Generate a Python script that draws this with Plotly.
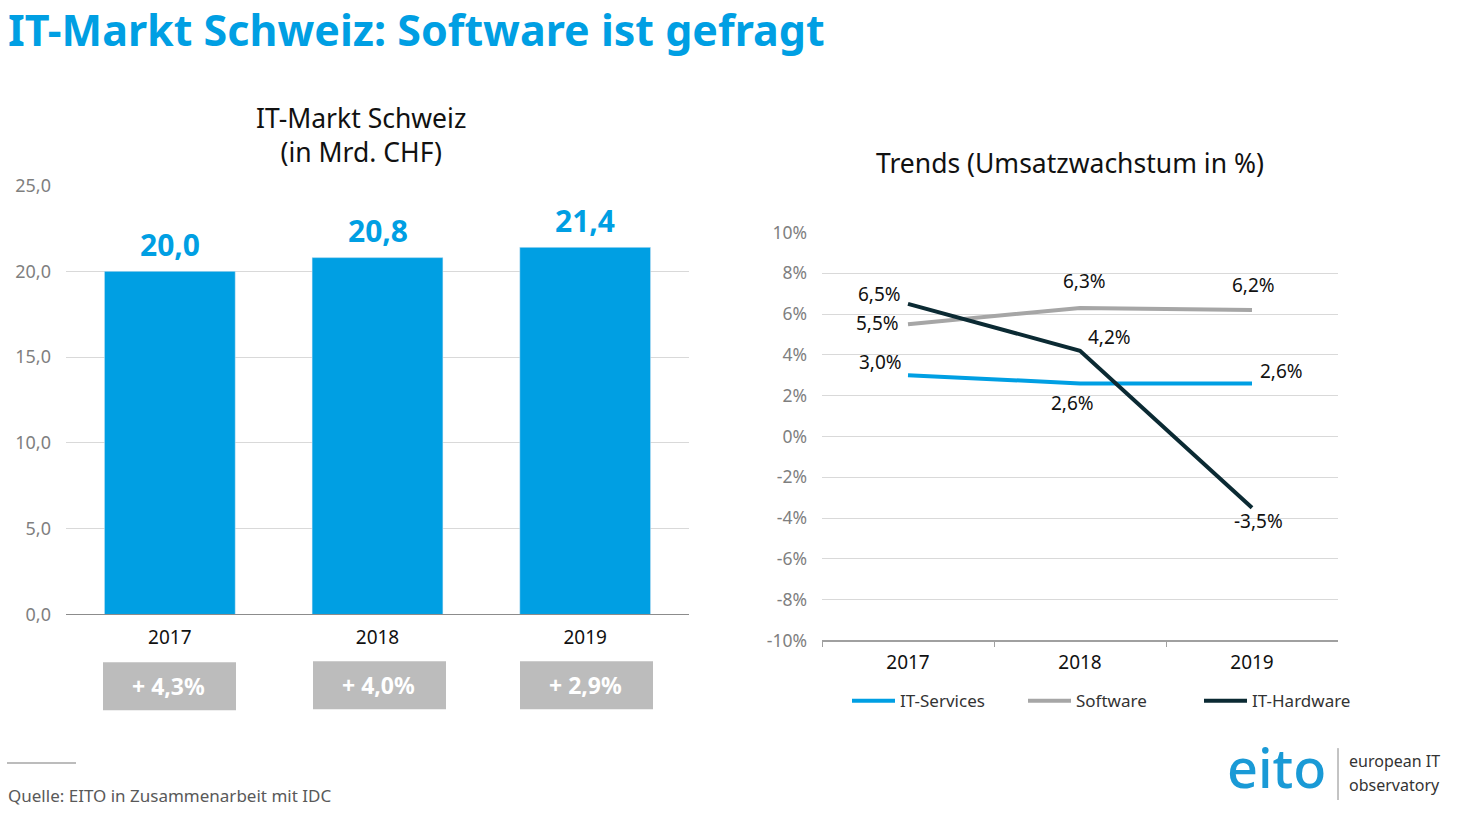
import plotly.graph_objects as go

W, H = 1464, 813
FONT = "Noto Sans"
BLUE = "#009fe3"
GREY = "#a6a6a6"
DARK = "#0b2a33"
MT, MB = 11, 11  # space Plotly keeps above and below the plot area

years = ["2017", "2018", "2019"]
market = [20.0, 20.8, 21.4]
growth = ["+ 4,3%", "+ 4,0%", "+ 2,9%"]
services = [3.0, 2.6, 2.6]
software = [5.5, 6.3, 6.2]
hardware = [6.5, 4.2, -3.5]
left_ticks = [0, 5, 10, 15, 20, 25]
right_ticks = [-10, -8, -6, -4, -2, 0, 2, 4, 6, 8, 10]


def px(v):
    return v / W


def py(v):
    return (H - MB - v) / (H - MT - MB)


def de(v, d=1):
    return f"{v:.{d}f}".replace(".", ",")


fig = go.Figure()
fig.add_trace(go.Bar(
    x=years, y=market, marker_color=BLUE, width=0.63, showlegend=False,
    xaxis="x", yaxis="y", hoverinfo="skip",
))
for name, vals, col in [("IT-Services", services, BLUE), ("Software", software, GREY), ("IT-Hardware", hardware, DARK)]:
    fig.add_trace(go.Scatter(
        x=years, y=vals, name=name, mode="lines",
        line=dict(color=col, width=4, shape="linear"),
        xaxis="x2", yaxis="y2",
    ))

annotations = []
# bar value labels
for i, v in enumerate(market):
    annotations.append(dict(text=de(v), xref="x", yref="y", x=i, y=v, yshift=27, xanchor="center", yanchor="middle",
                            showarrow=False, font=dict(family=FONT, size=30, color=BLUE, weight="bold")))

# chart titles
annotations.append(dict(text="IT-Markt Schweiz<br>(in Mrd. CHF)", xref="paper", yref="paper", x=px(361), y=py(133),
                        showarrow=False, font=dict(family=FONT, size=26.5, color="#111111"),
                        xanchor="center", yanchor="middle"))
annotations.append(dict(text="Trends (Umsatzwachstum in %)", xref="paper", yref="paper", x=px(1070), y=py(161),
                        showarrow=False, font=dict(family=FONT, size=26.5, color="#111111"), xanchor="center", yanchor="middle"))

# line data labels with offsets
offsets = {
    "services": [(-28, 13), (-8, -20), (29, 12)],
    "software": [(-31, 1), (4, 27), (1, 25)],
    "hardware": [(-29, 10), (29, 14), (6, -13)],
}
for vals, key in [(services, "services"), (software, "software"), (hardware, "hardware")]:
    for i, (v, (dx, dy)) in enumerate(zip(vals, offsets[key])):
        annotations.append(dict(text=de(v) + "%", xref="x2", yref="y2", x=i, y=v, xshift=dx, yshift=dy,
                                xanchor="center", yanchor="middle",
                                showarrow=False, font=dict(family=FONT, size=19, color="#111111")))

# growth boxes under the bars
shapes = []
box_x = [(103, 236, 662, 710), (313, 446, 661, 709), (520, 653, 661, 709)]
for (x0, x1, y0, y1), g in zip(box_x, growth):
    shapes.append(dict(type="rect", xref="paper", yref="paper", x0=px(x0), x1=px(x1), y0=py(y0), y1=py(y1),
                       fillcolor="#bcbcbc", line_width=0, layer="below"))
    annotations.append(dict(text=g, xref="paper", yref="paper", x=px((x0 + x1) / 2 - 1), y=py((y0 + y1) / 2),
                            xanchor="center", yanchor="middle",
                            showarrow=False, font=dict(family=FONT, size=23, color="white", weight="bold")))

# footnote
shapes.append(dict(type="line", xref="paper", yref="paper", x0=px(7), x1=px(76), y0=py(763), y1=py(763),
                   line=dict(color="#a6a6a6", width=1.5)))
annotations.append(dict(text="Quelle: EITO in Zusammenarbeit mit IDC", xref="paper", yref="paper", x=px(5.5), y=py(795),
                        xanchor="left", yanchor="middle", showarrow=False, font=dict(family=FONT, size=17, color="#595959")))

# logo as text
annotations.append(dict(text="eito", xref="paper", yref="paper", x=px(1225), y=py(767), xanchor="left", yanchor="middle",
                        showarrow=False, font=dict(family=FONT, size=54, color="#1a9ad6", weight=500)))
shapes.append(dict(type="line", xref="paper", yref="paper", x0=px(1338), x1=px(1338), y0=py(748), y1=py(800),
                   line=dict(color="#888888", width=1)))
annotations.append(dict(text="european IT", xref="paper", yref="paper", x=px(1347), y=py(761), xanchor="left",
                        yanchor="middle", showarrow=False, font=dict(family=FONT, size=16, color="#333333")))
annotations.append(dict(text="observatory", xref="paper", yref="paper", x=px(1347), y=py(785), xanchor="left",
                        yanchor="middle", showarrow=False, font=dict(family=FONT, size=16, color="#333333")))

fig.update_layout(
    width=W, height=H, autosize=False,
    margin=dict(l=0, r=0, t=0, b=0),
    paper_bgcolor="white", plot_bgcolor="white",
    font=dict(family=FONT),
    title=dict(text="IT-Markt Schweiz: Software ist gefragt", x=px(8), xanchor="left", xref="paper",
               y=py(29), yanchor="middle", yref="paper",
               font=dict(family=FONT, size=43, color=BLUE, weight="bold")),
    bargap=0.37,
    xaxis=dict(domain=[px(66), px(689)], type="category", range=[-0.5, 2.5], anchor="y", showgrid=False, showline=True,
               linecolor="#8c8c8c", linewidth=1, ticks="", tickfont=dict(family=FONT, size=19, color="#111111"),
               ticklabelstandoff=6),
    yaxis=dict(domain=[py(614), py(184)], range=[0, 25], tickvals=left_ticks,
               ticktext=[de(v) for v in left_ticks], anchor="x", showgrid=True, gridcolor="#d9d9d9", gridwidth=1,
               zeroline=False, ticks="", tickfont=dict(family=FONT, size=18, color="#7f7f7f"), ticklabelstandoff=14),
    xaxis2=dict(domain=[px(822), px(1338)], type="category", range=[-0.5, 2.5], anchor="y2", showgrid=False, showline=True,
                linecolor="#a0a0a0", linewidth=1.5, ticks="outside", tickson="boundaries", ticklen=5, tickcolor="#a0a0a0",
                tickfont=dict(family=FONT, size=19, color="#111111"), ticklabelstandoff=4),
    yaxis2=dict(domain=[py(640), py(231)], range=[-10, 10], tickvals=right_ticks,
                ticktext=[f"{v}%" for v in right_ticks], anchor="x2", showgrid=True, gridcolor="#d9d9d9", gridwidth=1,
                zeroline=False, ticks="", tickfont=dict(family=FONT, size=17.5, color="#7f7f7f"), ticklabelstandoff=14),
    legend=dict(orientation="h", x=px(847), y=py(683), xanchor="left", yanchor="top", xref="paper", yref="paper",
                entrywidth=118, entrywidthmode="pixels", itemwidth=43, traceorder="normal",
                font=dict(family=FONT, size=17, color="#333333"), bgcolor="rgba(0,0,0,0)"),
    shapes=shapes, annotations=annotations,
)

fig.write_html("out.html", config=dict(displayModeBar=False),
               post_script="document.body.style.margin='0';document.body.style.overflow='hidden';")
